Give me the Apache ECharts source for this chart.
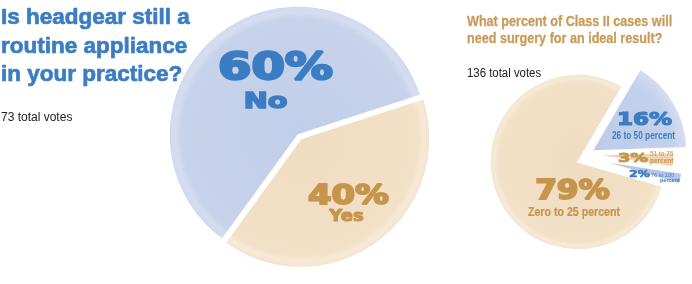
<!DOCTYPE html>
<html><head><meta charset="utf-8">
<script src="https://cdn.jsdelivr.net/npm/echarts@6/dist/echarts.min.js"></script>
<style>html,body{margin:0;padding:0;background:#fff}#c{width:692px;height:284px}</style>
</head><body><div id="c"></div>
<script>
// ---- data ----
const leftTitle = ['Is headgear still a', 'routine appliance', 'in your practice?'];
const leftVotes = '73 total votes';
const leftCats = ['Yes', 'No'];
const leftVals = [40, 60];

const rightTitle = ['What percent of Class II cases will', 'need surgery for an ideal result?'];
const rightVotes = '136 total votes';
const rightCats = ['Zero to 25 percent', '26 to 50 percent', '51 to 75 percent', '76 to 100 percent'];
const rightVals = [79, 16, 3, 2];

// ---- styles ----
const BLUE = '#3b7dc2', TAN = '#c6954c', TITLE_TAN = '#c99b58';
const SANS = "'Liberation Sans', Arial, sans-serif";
const WIDE = "'DejaVu Sans', sans-serif";

function grad(cx, cy, r, stops) {
  return { type: 'radial', x: cx, y: cy, r: r, global: true,
    colorStops: stops.map(s => ({ offset: s[0], color: s[1] })) };
}
function pieSlice(cats, vals, idx, center, r, startAngle, fill) {
  return {
    type: 'pie', center: center, radius: r, startAngle: startAngle, clockwise: true,
    silent: true, animation: false, label: { show: false }, labelLine: { show: false },
    emphasis: { disabled: true },
    data: cats.map((c, i) => ({
      name: c, value: vals[i],
      itemStyle: i === idx ? { color: fill, borderColor: '#ffffff', borderWidth: 1.5 }
                           : { color: 'rgba(0,0,0,0)', borderWidth: 0 }
    }))
  };
}
function txt(x, y, text, font, fill, align, sx, sw) {
  const st = { text: text, font: font, fill: fill, textAlign: align || 'center', textVerticalAlign: 'middle' };
  if (sw) { st.stroke = fill; st.lineWidth = sw; }
  return { type: 'text', x: x, y: y, scaleX: sx || 1, silent: true, z: 10, style: st };
}

// ---- left pie ----
const LC = [298, 135], LR = 129, LSTART = 18;
const yesC = [301, 138.5];
const blueStops = [[0, '#c1cee9'], [0.9, '#c7d3eb'], [0.95, '#d5ddf0'], [0.985, '#d2dbef'], [1, '#c4d0e9']];
const tanStops = [[0, '#f0dcc0'], [0.9, '#f2e0c7'], [0.95, '#f6e9d6'], [0.985, '#f4e6d2'], [1, '#eedcc2']];
const series = [
  pieSlice(leftCats, leftVals, 1, LC, LR, LSTART, grad(LC[0], LC[1], LR, blueStops)),
  pieSlice(leftCats, leftVals, 0, yesC, LR, LSTART, grad(yesC[0], yesC[1], LR, tanStops)),
];

// ---- right pie (slices drawn with individual offsets) ----
const RSTART = 344;
const rightLayout = [
  { c: [578, 162], r: 88, fill: grad(578, 162, 88, tanStops) },
  { c: [592, 151], r: 95, fill: grad(592, 151, 95, [[0, '#bccbe8'], [0.85, '#c4d1ec'], [1, '#d6dff1']]) },
  { c: [594, 155], r: 80, fill: '#ecd6b6' },
  { c: [597, 160], r: 86, fill: '#b6c6e5' },
];
rightLayout.forEach((l, i) => series.push(pieSlice(rightCats, rightVals, i, l.c, l.r, RSTART, l.fill)));

// ---- texts ----
const g = [];
leftTitle.forEach((t, i) => g.push(txt(1, 18 + i * 28.5, t, 'bold 22.5px ' + SANS, BLUE, 'left', 1, 0.7)));
g.push(txt(1, 118, leftVotes, '12px ' + SANS, '#222', 'left'));
rightTitle.forEach((t, i) => g.push(txt(467, 21.5 + i * 17, t, 'bold 15px ' + SANS, TITLE_TAN, 'left', 0.84, 0.3)));
g.push(txt(467, 73.5, rightVotes, '12px ' + SANS, '#222', 'left', 0.95));

// left pie labels
g.push(txt(275.5, 69.5, leftVals[1] + '%', 'bold 37px ' + WIDE, BLUE, 'center', 1.3, 2.4));
g.push(txt(265.5, 102.5, leftCats[1], 'bold 20.5px ' + WIDE, BLUE, 'center', 1.4, 1.5));
g.push(txt(348.5, 197, leftVals[0] + '%', 'bold 26px ' + WIDE, TAN, 'center', 1.3, 1.8));
g.push(txt(346.5, 217.5, leftCats[0], 'bold 15px ' + WIDE, TAN, 'center', 1.2, 1));

// right pie labels
g.push(txt(572.5, 192.5, rightVals[0] + '%', 'bold 26px ' + WIDE, TAN, 'center', 1.2, 1.8));
g.push(txt(574, 212.5, rightCats[0], 'bold 12.5px ' + SANS, TAN, 'center', 0.85, 0.2));
g.push(txt(644.5, 120.5, rightVals[1] + '%', 'bold 18px ' + WIDE, BLUE, 'center', 1.28, 1.2));
g.push(txt(643.5, 136.5, rightCats[1], 'bold 10px ' + SANS, BLUE, 'center', 0.83));
g.push(txt(633, 158.5, rightVals[2] + '%', 'bold 13px ' + WIDE, TAN, 'center', 1.36, 0.9));
const c3 = rightCats[2].split(' percent');
g.push(txt(650, 154, c3[0], '6.5px ' + SANS, TAN, 'left'));
g.push(txt(650, 161, 'percent', 'bold 6.5px ' + SANS, TAN, 'left'));
g.push(txt(639.5, 175, rightVals[3] + '%', 'bold 9.5px ' + WIDE, BLUE, 'center', 1.3, 0.6));
const c4 = rightCats[3].split(' percent');
g.push(txt(651, 175, c4[0], '5.5px ' + SANS, BLUE, 'left'));
g.push(txt(660, 180.5, 'percent', 'bold 5.5px ' + SANS, BLUE, 'left'));

const chart = echarts.init(document.getElementById('c'), null, { renderer: 'canvas' });
chart.setOption({
  backgroundColor: '#ffffff',
  animation: false,
  series: series,
  graphic: g
});
</script></body></html>
